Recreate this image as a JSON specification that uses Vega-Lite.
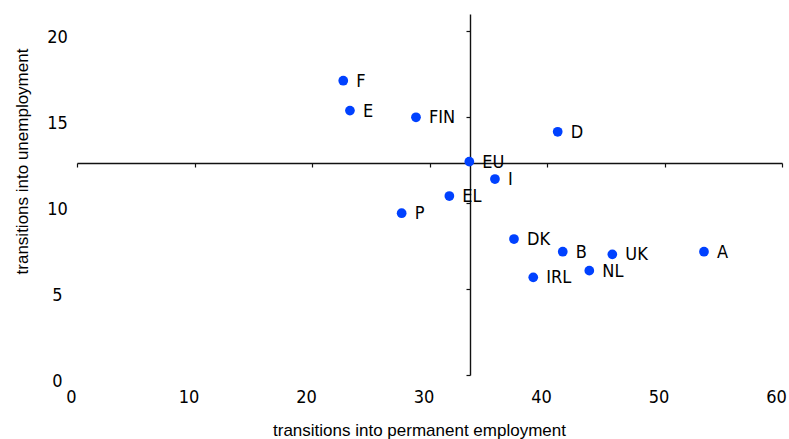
{
  "$schema": "https://vega.github.io/schema/vega-lite/v6.json",
  "width": 705,
  "height": 361,
  "autosize": "none",
  "padding": {"left": 77, "top": 14, "right": 7, "bottom": 64},
  "background": "white",
  "config": {"view": {"stroke": null}},
  "data": {
    "values": [
      {"country": "F", "permanent": 22.66, "unemployment": 17.12},
      {"country": "E", "permanent": 23.23, "unemployment": 15.38},
      {"country": "FIN", "permanent": 28.85, "unemployment": 14.99},
      {"country": "D", "permanent": 40.91, "unemployment": 14.15},
      {"country": "EU", "permanent": 33.39, "unemployment": 12.41},
      {"country": "I", "permanent": 35.57, "unemployment": 11.4},
      {"country": "EL", "permanent": 31.69, "unemployment": 10.41},
      {"country": "P", "permanent": 27.63, "unemployment": 9.41},
      {"country": "DK", "permanent": 37.19, "unemployment": 7.91},
      {"country": "B", "permanent": 41.34, "unemployment": 7.17},
      {"country": "UK", "permanent": 45.56, "unemployment": 7.02},
      {"country": "A", "permanent": 53.36, "unemployment": 7.17},
      {"country": "IRL", "permanent": 38.83, "unemployment": 5.68},
      {"country": "NL", "permanent": 43.6, "unemployment": 6.07}
    ]
  },
  "layer": [
    {
      "mark": {"type": "point", "filled": true, "size": 95, "opacity": 1, "color": "#0041FF"},
      "encoding": {
        "x": {
          "field": "permanent", "type": "quantitative",
          "scale": {"domain": [0, 60], "nice": false, "zero": false},
          "axis": {
            "orient": "bottom", "values": [0, 10, 20, 30, 40, 50, 60],
            "domain": false, "ticks": false, "tickSize": 0, "grid": false,
            "labelFont": "DejaVu Sans Condensed, Liberation Sans", "labelFontSize": 18, "labelColor": "#000",
            "labelPadding": 13, "labelOffset": -6, "labelFlush": false, "labelOverlap": false,
            "title": "transitions into permanent employment",
            "titleFont": "Liberation Sans", "titleFontSize": 17, "titleFontWeight": "normal", "titleColor": "#000",
            "titleBaseline": "alphabetic", "titleAlign": "center", "titleX": 342, "titleY": 60
          }
        },
        "y": {
          "field": "unemployment", "type": "quantitative",
          "scale": {"domain": [0, 21], "nice": false, "zero": false},
          "axis": {
            "orient": "left", "values": [0, 5, 10, 15, 20],
            "domain": false, "ticks": false, "tickSize": 0, "grid": false,
            "labelFont": "DejaVu Sans Condensed, Liberation Sans", "labelFontSize": 18, "labelColor": "#000",
            "labelPadding": 20, "labelAlign": "center", "labelOffset": 6, "labelFlush": false, "labelOverlap": false,
            "title": "transitions into unemployment",
            "titleFont": "Liberation Sans", "titleFontSize": 17, "titleFontWeight": "normal", "titleColor": "#000",
            "titleBaseline": "alphabetic", "titleAlign": "center", "titleAngle": -90, "titleX": -50, "titleY": 147
          }
        }
      }
    },
    {
      "mark": {"type": "text", "align": "left", "baseline": "middle", "dx": 13, "dy": 1, "font": "DejaVu Sans Condensed, Liberation Sans", "fontSize": 18, "color": "#000"},
      "encoding": {
        "x": {
          "field": "permanent", "type": "quantitative",
          "axis": {
            "orient": "bottom", "offset": -212, "values": [0, 10, 20, 30, 40, 50, 60],
            "labels": false, "domain": true, "domainColor": "#111", "domainWidth": 1.4,
            "ticks": true, "tickSize": 4, "tickColor": "#111", "tickWidth": 1.2, "grid": false, "title": null
          }
        },
        "y": {
          "field": "unemployment", "type": "quantitative",
          "axis": {
            "orient": "left", "offset": -393, "values": [0, 5, 10, 15, 20],
            "labels": false, "domain": true, "domainColor": "#111", "domainWidth": 1.4,
            "ticks": true, "tickSize": 4, "tickColor": "#111", "tickWidth": 1.2, "grid": false, "title": null
          }
        },
        "text": {"field": "country", "type": "nominal"}
      }
    }
  ],
  "resolve": {"axis": {"x": "independent", "y": "independent"}}
}
